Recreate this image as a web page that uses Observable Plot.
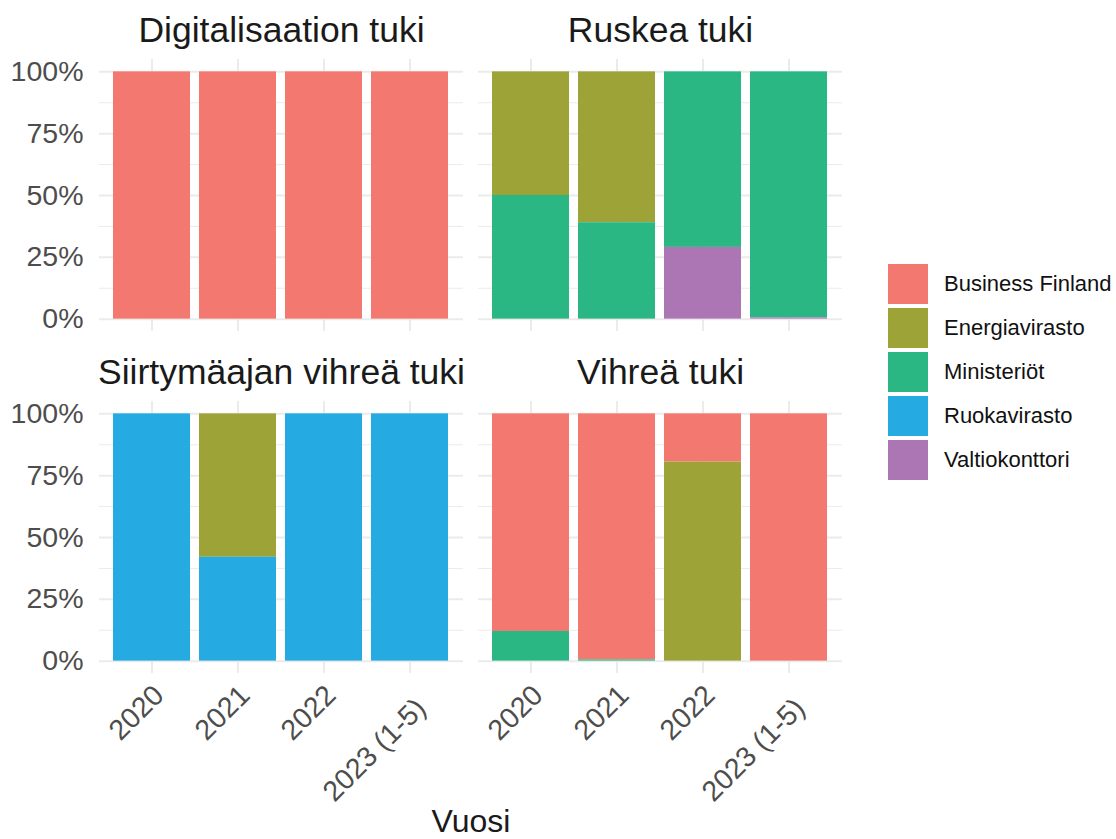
<!DOCTYPE html>
<html>
<head>
<meta charset="utf-8">
<script src="https://cdn.jsdelivr.net/npm/d3@7"></script>
<script src="https://cdn.jsdelivr.net/npm/@observablehq/plot@0.6"></script>
<style>
  html, body { margin: 0; padding: 0; background: #fff; }
  #wrap { position: relative; width: 1116px; height: 839px; font-family: "Liberation Sans", Arial, sans-serif; overflow: hidden; }
  #legend { position: absolute; left: 888px; top: 264px; }
  .item { display: flex; align-items: center; height: 40px; margin-bottom: 4px; }
  .sw { width: 40px; height: 40px; margin-right: 16px; }
  .lab { font-size: 22px; color: #111; white-space: nowrap; }
</style>
</head>
<body>
<div id="wrap"><div id="legend"></div></div>
<script>
// Facets (support types) and x categories (years)
const tuet = ["Digitalisaation tuki", "Ruskea tuki", "Siirtymäajan vihreä tuki", "Vihreä tuki"];
const vuodet = ["2020", "2021", "2022", "2023 (1-5)"];
const virastot = ["Business Finland", "Energiavirasto", "Ministeriöt", "Ruokavirasto", "Valtiokonttori"];
const varit = ["#F3786F", "#9DA337", "#2BB784", "#25AAE1", "#AB76B3"];

// Shares per agency: rows = tuet, columns = vuodet
const businessFinland = [[1, 1, 1, 1], [0, 0, 0, 0], [0, 0, 0, 0], [0.88, 0.995, 0.195, 1]];
const energiavirasto  = [[0, 0, 0, 0], [0.50, 0.61, 0, 0], [0, 0.58, 0, 0], [0, 0, 0.805, 0]];
const ministeriot     = [[0, 0, 0, 0], [0.50, 0.39, 0.71, 0.995], [0, 0, 0, 0], [0.12, 0.005, 0, 0]];
const ruokavirasto    = [[0, 0, 0, 0], [0, 0, 0, 0], [1, 0.42, 1, 1], [0, 0, 0, 0]];
const valtiokonttori  = [[0, 0, 0, 0], [0, 0, 0.29, 0.005], [0, 0, 0, 0], [0, 0, 0, 0]];

const yTicks = [0, 0.25, 0.5, 0.75, 1];
const yMinor = [0.125, 0.375, 0.625, 0.875];

const series = [businessFinland, energiavirasto, ministeriot, ruokavirasto, valtiokonttori];
const rows = [];
tuet.forEach((t, ti) => {
  vuodet.forEach((v, vi) => {
    virastot.forEach((a, ai) => {
      const val = series[ai][ti][vi];
      if (val > 0) rows.push({tuki: t, col: ti % 2, row: Math.floor(ti / 2), vuosi: v, virasto: a, osuus: val});
    });
  });
});
const titles = tuet.map((t, ti) => ({tuki: t, col: ti % 2, row: Math.floor(ti / 2)}));

const grid = "#EBEBEB";
const xAxisOpts = {tickSize: 0, tickPadding: 14, tickRotate: -45, fontSize: 28.5, fill: "#4D4D4D"};
const chart = Plot.plot({
  width: 1116,
  height: 839,
  marginLeft: 99,
  marginRight: 273,
  marginTop: 59,
  marginBottom: 166,
  style: {fontFamily: "'Liberation Sans', Arial, sans-serif", background: "#fff"},
  fx: {domain: [0, 1], paddingInner: 0.0395, paddingOuter: 0, axis: null},
  fy: {domain: [0, 1], paddingInner: 0.205, paddingOuter: 0, axis: null},
  x: {domain: vuodet, paddingInner: 0.1, paddingOuter: 0.15, label: null},
  y: {domain: [-0.05, 1.05], label: null},
  color: {domain: virastot, range: varit},
  marks: [
    Plot.ruleY(yMinor, {stroke: grid, strokeWidth: 1}),
    Plot.ruleY(yTicks, {stroke: grid, strokeWidth: 2}),
    Plot.ruleX(vuodet, {x: d => d, stroke: grid, strokeWidth: 2}),
    Plot.barY(rows, Plot.stackY({
      x: "vuosi", y: "osuus", fill: "virasto", z: "virasto",
      fx: "col", fy: "row",
      order: ["Valtiokonttori", "Ruokavirasto", "Ministeriöt", "Energiavirasto", "Business Finland"]
    })),
    Plot.axisY(yTicks, {tickSize: 0, tickPadding: 16, fontSize: 28.5, fill: "#4D4D4D",
      tickFormat: d => Math.round(d * 100) + "%"}),
    Plot.axisX(vuodet.slice(0, 3), {...xAxisOpts, dx: 7, dy: 3}),
    Plot.axisX(vuodet.slice(3), {...xAxisOpts, dx: 11, dy: 16}),
    Plot.text(titles, {fx: "col", fy: "row", text: "tuki", frameAnchor: "top", lineAnchor: "middle",
      dy: -29, fontSize: 35.5, fill: "#1A1A1A"})
  ]
});
document.getElementById("wrap").prepend(chart);

// axis title
const svgNS = "http://www.w3.org/2000/svg";
const t = document.createElementNS(svgNS, "text");
t.setAttribute("x", 471);
t.setAttribute("y", 832);
t.setAttribute("text-anchor", "middle");
t.setAttribute("font-size", 32);
t.setAttribute("fill", "#1A1A1A");
t.textContent = "Vuosi";
chart.appendChild(t);

// legend
const leg = document.getElementById("legend");
virastot.forEach((a, i) => {
  const it = document.createElement("div");
  it.className = "item";
  it.innerHTML = `<div class="sw" style="background:${varit[i]}"></div><div class="lab">${a}</div>`;
  leg.appendChild(it);
});
</script>
</body>
</html>
